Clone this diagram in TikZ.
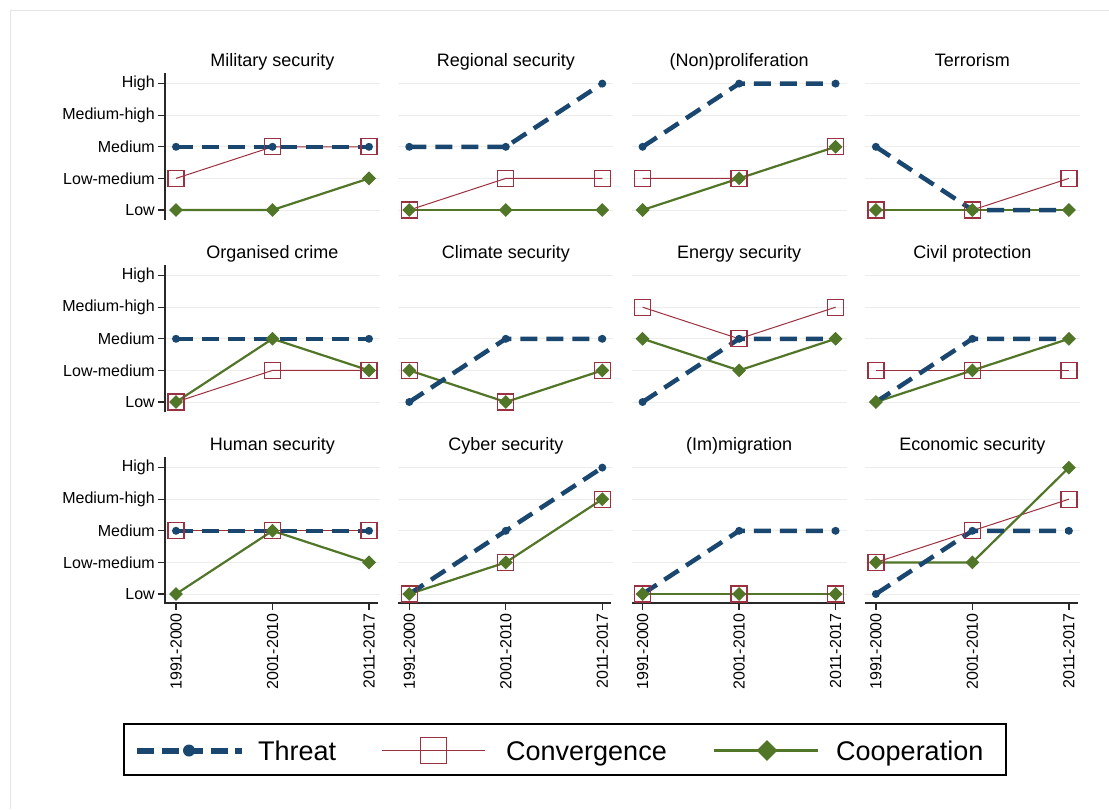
\documentclass[tikz,border=0pt]{standalone}
\usepackage{fontspec}
\setmainfont{Liberation Sans}
\usetikzlibrary{shapes.geometric}
\definecolor{thr}{RGB}{26,71,111}
\definecolor{cnv}{RGB}{155,48,64}
\definecolor{cop}{RGB}{82,118,40}
\definecolor{gridc}{RGB}{236,236,236}
\definecolor{axc}{RGB}{40,40,40}
\definecolor{framec}{RGB}{228,228,228}
\tikzset{
  thrline/.style={thr, line width=4.5pt, dash pattern=on 17pt off 9pt},
  cnvline/.style={cnv, line width=1pt},
  copline/.style={cop, line width=2.2pt},
  sqmark/.style={rectangle, draw=cnv, line width=1.3pt, minimum size=16pt, inner sep=0pt},
  dotmark/.style={circle, fill=thr, minimum size=8pt, inner sep=0pt},
  diamark/.style={diamond, fill=cop, minimum size=14pt, inner sep=0pt},
  gridl/.style={gridc, line width=1pt},
  axisl/.style={axc, line width=1.3pt},
  ttl/.style={font=\fontsize{18}{21}\selectfont, inner sep=0pt, anchor=base},
  ylab/.style={font=\fontsize{16}{19}\selectfont, anchor=east, inner sep=0pt},
  xlab/.style={font=\fontsize{16}{19}\selectfont, rotate=90, anchor=east, inner sep=0pt},
  leglab/.style={font=\fontsize{27}{31}\selectfont, anchor=base west, inner sep=0pt},
}
\newcommand{\panelbase}[1]{%
  \foreach \k in {0,...,4} \draw[gridl] (0,{-\k*31.6}) -- (215,{-\k*31.6});
  \node[ttl] (title) at (107.5,-143.2) {#1};
}
\newcommand{\series}[4]{%
  \coordinate (#1a) at (11,{-(#2-1)*31.6});
  \coordinate (#1b) at (107.5,{-(#3-1)*31.6});
  \coordinate (#1c) at (204,{-(#4-1)*31.6});
}
\newcommand{\panelmarks}{%
  \draw[cnvline] (va) -- (vb) -- (vc);
  \draw[copline] (ka) -- (kb) -- (kc);
  \draw[thrline] (ta) -- (tb) -- (tc);
  \foreach \p in {va,vb,vc} \node[sqmark] (m\p) at (\p) {};
  \foreach \p in {ta,tb,tc} \node[dotmark] (m\p) at (\p) {};
  \foreach \p in {ka,kb,kc} \node[diamark] (m\p) at (\p) {};
}
\newcommand{\yaxis}{%
  \draw[axisl] (0,10) -- (0,-137.4);
  \foreach \k/\lab in {0/Low,1/Low-medium,2/Medium,3/Medium-high,4/High} {
    \draw[axisl] (-7,{-\k*31.6}) -- (0,{-\k*31.6});
    \node[ylab] (yl\k) at (-10,{-\k*31.6}) {\lab};
  }
}
\newcommand{\xaxis}{%
  \draw[axisl] (0,9) -- (213,9);
  \foreach \x/\lab in {11/1991-2000,107.5/2001-2010,204/2011-2017} {
    \draw[axisl] (\x,9) -- (\x,16);
    \node[xlab] (xl\x) at (\x,19) {\lab};
  }
}
\begin{document}
\begin{tikzpicture}[x=1pt,y=-1pt]
\useasboundingbox (0,0) rectangle (1109,809);
\fill[white] (0,0) rectangle (1109,809);
\draw[framec, line width=1pt] (10,809) -- (10,10) -- (1109,10);

% Row 1
\begin{scope}[shift={(165,210)}]
\panelbase{Military security}\yaxis
\series{t}{3}{3}{3}\series{v}{2}{3}{3}\series{k}{1}{1}{2}
\panelmarks
\end{scope}
\begin{scope}[shift={(398.3,210)}]
\panelbase{Regional security}
\series{t}{3}{3}{5}\series{v}{1}{2}{2}\series{k}{1}{1}{1}
\panelmarks
\end{scope}
\begin{scope}[shift={(631.6,210)}]
\panelbase{(Non)proliferation}
\series{t}{3}{5}{5}\series{v}{2}{2}{3}\series{k}{1}{2}{3}
\panelmarks
\end{scope}
\begin{scope}[shift={(864.9,210)}]
\panelbase{Terrorism}
\series{t}{3}{1}{1}\series{v}{1}{1}{2}\series{k}{1}{1}{1}
\panelmarks
\end{scope}

% Row 2
\begin{scope}[shift={(165,402)}]
\panelbase{Organised crime}\yaxis
\series{t}{3}{3}{3}\series{v}{1}{2}{2}\series{k}{1}{3}{2}
\panelmarks
\end{scope}
\begin{scope}[shift={(398.3,402)}]
\panelbase{Climate security}
\series{t}{1}{3}{3}\series{v}{2}{1}{2}\series{k}{2}{1}{2}
\panelmarks
\end{scope}
\begin{scope}[shift={(631.6,402)}]
\panelbase{Energy security}
\series{t}{1}{3}{3}\series{v}{4}{3}{4}\series{k}{3}{2}{3}
\panelmarks
\end{scope}
\begin{scope}[shift={(864.9,402)}]
\panelbase{Civil protection}
\series{t}{1}{3}{3}\series{v}{2}{2}{2}\series{k}{1}{2}{3}
\panelmarks
\end{scope}

% Row 3
\begin{scope}[shift={(165,594)}]
\panelbase{Human security}\yaxis\xaxis
\series{t}{3}{3}{3}\series{v}{3}{3}{3}\series{k}{1}{3}{2}
\panelmarks
\end{scope}
\begin{scope}[shift={(398.3,594)}]
\panelbase{Cyber security}\xaxis
\series{t}{1}{3}{5}\series{v}{1}{2}{4}\series{k}{1}{2}{4}
\panelmarks
\end{scope}
\begin{scope}[shift={(631.6,594)}]
\panelbase{(Im)migration}\xaxis
\series{t}{1}{3}{3}\series{v}{1}{1}{1}\series{k}{1}{1}{1}
\panelmarks
\end{scope}
\begin{scope}[shift={(864.9,594)}]
\panelbase{Economic security}\xaxis
\series{t}{1}{3}{3}\series{v}{2}{3}{4}\series{k}{2}{2}{5}
\panelmarks
\end{scope}

% Legend
\draw[black, line width=2pt] (124,724) rectangle (1006,775);
\coordinate (lt1) at (137,750.5); \coordinate (lt2) at (242,750.5);
\draw[thr, line width=6pt, dash pattern=on 17pt off 7.5pt] (lt1) -- (lt2);
\node[circle, fill=thr, minimum size=12pt, inner sep=0pt] (ldot) at (189,750.5) {};
\node[leglab] (lthreat) at (258,760) {Threat};
\coordinate (lc1) at (382,750.5); \coordinate (lc2) at (485,750.5);
\draw[cnv, line width=1.4pt] (lc1) -- (lc2);
\node[rectangle, draw=cnv, line width=1.6pt, minimum size=26pt, inner sep=0pt] (lsq) at (433.5,750.5) {};
\node[leglab] (lconv) at (506,760) {Convergence};
\coordinate (lk1) at (714,750.5); \coordinate (lk2) at (818,750.5);
\draw[cop, line width=3.5pt] (lk1) -- (lk2);
\node[diamond, fill=cop, minimum size=21pt, inner sep=0pt] (ldia) at (767,750.5) {};
\node[leglab] (lcoop) at (836,760) {Cooperation};
\end{tikzpicture}
\end{document}
